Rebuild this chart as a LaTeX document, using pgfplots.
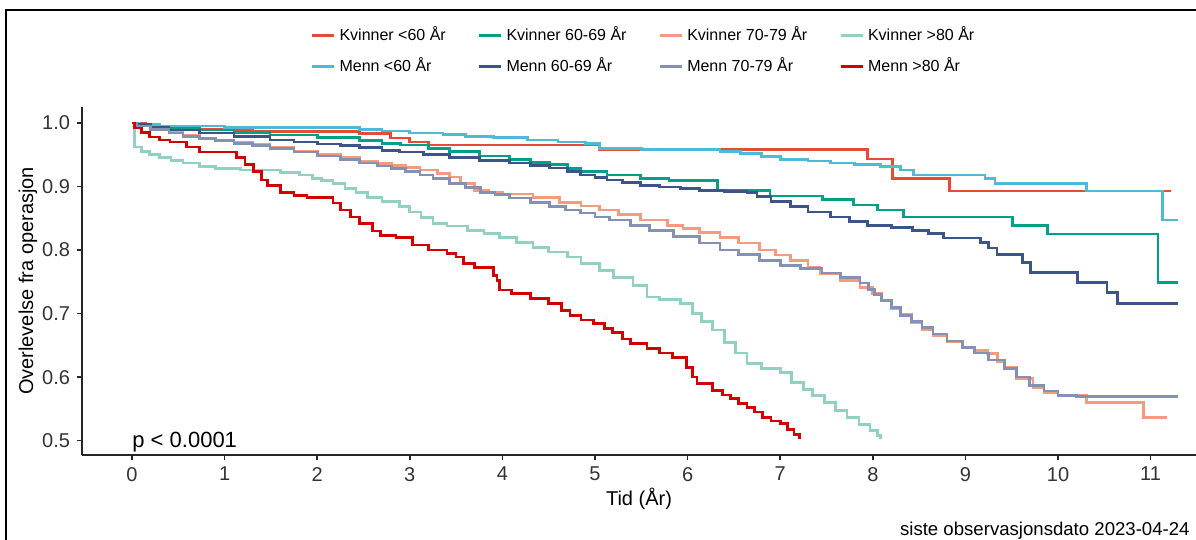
\documentclass[border=0pt]{standalone}
\usepackage{fontspec}
\setmainfont{Liberation Sans}
\usepackage{pgfplots}
\pgfplotsset{compat=1.18}
\definecolor{kv60}{HTML}{E64B35}
\definecolor{me60}{HTML}{4DBBD5}
\definecolor{kv6069}{HTML}{00A087}
\definecolor{me6069}{HTML}{3C5488}
\definecolor{kv7079}{HTML}{F39B7F}
\definecolor{me7079}{HTML}{8491B4}
\definecolor{kv80}{HTML}{91D1C2}
\definecolor{me80}{HTML}{D00000}
\begin{document}
\begin{tikzpicture}
\useasboundingbox (-41pt,-42.5pt) rectangle (557pt,227.5pt);
\begin{axis}[
  at={(0pt,0pt)}, anchor=south west,
  scale only axis, width=557pt, height=174pt,
  xmin=-0.54, xmax=11.49, ymin=0.4775, ymax=1.025,
  axis x line*=bottom, axis y line*=left,
  axis line style={line width=0.8pt, black!85, -},
  xtick={0,1,2,3,4,5,6,7,8,9,10,11},
  ytick={0.5,0.6,0.7,0.8,0.9,1.0},
  yticklabel style={/pgf/number format/fixed, /pgf/number format/fixed zerofill, /pgf/number format/precision=1},
  /pgf/number format/assume math mode=true,
  tick align=outside, major tick length=2.5pt,
  tick style={line width=0.8pt, black!85},
  tick label style={font=\fontsize{10}{12}\selectfont, color=black!80},
  xlabel={Tid (År)}, ylabel={Overlevelse fra operasjon},
  label style={font=\fontsize{11.5}{13}\selectfont},
  every axis x label/.style={at={(axis description cs:0.5,-0.125)}, anchor=center},
  every axis y label/.style={at={(axis description cs:-0.0485,0.5)}, anchor=center, rotate=90},
  legend columns=4, legend cell align=left,
  legend style={at={(0.505,1.161)}, anchor=center, draw=none, fill=none,
    font=\fontsize{8}{9.6}\selectfont,
    /tikz/every even column/.append style={column sep=14pt}, row sep=3pt},
  legend image code/.code={\draw[#1] (0pt,0pt) -- (11pt,0pt);},
  every axis plot/.append style={line width=1.35pt, const plot, mark=none},
]
% Kvinner <60
\addplot[kv60] coordinates {(0,1.000) (0.15,0.995) (0.4,0.990) (1.3,0.986) (2.46,0.983) (2.79,0.976) (3.0,0.970) (3.2,0.965) (5.05,0.958) (7.94,0.943) (8.21,0.913) (8.83,0.893) (11.22,0.893)};
\addlegendentry{Kvinner <60 År}
% Kvinner 60-69
\addplot[kv6069] coordinates {(0,1) (0.05,0.997) (0.3,0.993) (0.73,0.989) (1.1,0.985) (1.49,0.981) (2.0,0.977) (2.46,0.972) (2.7,0.968) (2.9,0.965) (3.2,0.960) (3.43,0.955) (3.75,0.948) (4.08,0.942) (4.3,0.938) (4.51,0.934) (4.7,0.928) (4.84,0.923) (5.13,0.918) (5.49,0.913) (5.8,0.909) (6.32,0.894) (6.89,0.885) (7.46,0.879) (7.79,0.871) (8.05,0.863) (8.33,0.852) (9.51,0.839) (9.89,0.825) (11.08,0.749) (11.30,0.749)};
\addlegendentry{Kvinner 60-69 År}
% Kvinner 70-79
\addplot[kv7079] coordinates {(0,1) (0.05,0.996) (0.2,0.991) (0.4,0.985) (0.55,0.980) (0.73,0.976) (0.9,0.973) (1.1,0.970) (1.3,0.966) (1.49,0.962) (1.75,0.956) (2.0,0.950) (2.25,0.945) (2.46,0.940) (2.65,0.936) (2.8,0.933) (2.95,0.930) (3.11,0.926) (3.3,0.920) (3.43,0.915) (3.55,0.905) (3.7,0.894) (3.85,0.890) (4.0,0.888) (4.33,0.883) (4.62,0.875) (4.85,0.869) (5.05,0.863) (5.25,0.856) (5.49,0.847) (5.78,0.839) (5.95,0.834) (6.13,0.828) (6.35,0.820) (6.55,0.811) (6.78,0.800) (6.95,0.792) (7.11,0.784) (7.3,0.772) (7.43,0.763) (7.65,0.752) (7.86,0.741) (8.0,0.732) (8.09,0.721) (8.2,0.708) (8.3,0.698) (8.42,0.686) (8.53,0.674) (8.65,0.665) (8.8,0.656) (8.97,0.647) (9.1,0.642) (9.24,0.637) (9.35,0.625) (9.42,0.615) (9.55,0.598) (9.73,0.584) (9.85,0.576) (10.0,0.571) (10.31,0.560) (10.92,0.537) (11.18,0.537)};
\addlegendentry{Kvinner 70-79 År}
% Kvinner >80
\addplot[kv80] coordinates {(0,1.000) (0.03,0.962) (0.10,0.955) (0.19,0.950) (0.30,0.946) (0.42,0.941) (0.55,0.937) (0.73,0.931) (0.90,0.928) (1.17,0.926) (1.60,0.922) (1.81,0.918) (1.95,0.913) (2.05,0.909) (2.17,0.905) (2.30,0.897) (2.42,0.890) (2.54,0.883) (2.70,0.876) (2.89,0.868) (3.00,0.860) (3.12,0.851) (3.25,0.842) (3.40,0.838) (3.62,0.831) (3.80,0.826) (3.97,0.820) (4.15,0.812) (4.33,0.804) (4.50,0.797) (4.70,0.789) (4.85,0.779) (5.05,0.768) (5.20,0.757) (5.41,0.744) (5.56,0.726) (5.70,0.722) (5.92,0.716) (6.05,0.700) (6.15,0.688) (6.27,0.674) (6.40,0.655) (6.52,0.638) (6.64,0.621) (6.80,0.614) (7.00,0.607) (7.12,0.592) (7.25,0.580) (7.35,0.571) (7.48,0.560) (7.60,0.548) (7.72,0.536) (7.85,0.526) (7.97,0.516) (8.05,0.508) (8.08,0.503)};
\addlegendentry{Kvinner >80 År}
% Menn <60
\addplot[me60] coordinates {(0,1) (0.08,0.997) (0.3,0.995) (1.0,0.993) (2.46,0.990) (2.7,0.987) (3.0,0.984) (3.36,0.982) (3.6,0.979) (3.9,0.977) (4.27,0.973) (4.6,0.970) (4.9,0.968) (5.05,0.960) (5.5,0.958) (6.35,0.955) (6.57,0.952) (6.8,0.947) (7.0,0.942) (7.3,0.940) (7.54,0.937) (7.8,0.934) (8.08,0.931) (8.3,0.926) (8.44,0.918) (9.21,0.913) (9.32,0.905) (10.31,0.893) (11.13,0.847) (11.30,0.847)};
\addlegendentry{Menn <60 År}
% Menn 60-69
\addplot[me6069] coordinates {(0,1) (0.05,0.997) (0.2,0.993) (0.4,0.989) (0.73,0.984) (1.1,0.979) (1.49,0.973) (1.75,0.970) (2.0,0.967) (2.25,0.964) (2.46,0.961) (2.7,0.957) (2.89,0.954) (3.15,0.950) (3.43,0.946) (3.75,0.941) (4.08,0.937) (4.3,0.933) (4.51,0.929) (4.7,0.923) (4.84,0.918) (5.0,0.914) (5.13,0.910) (5.3,0.906) (5.49,0.902) (5.7,0.899) (5.92,0.897) (6.13,0.894) (6.4,0.892) (6.64,0.890) (6.75,0.884) (6.9,0.876) (7.11,0.868) (7.3,0.860) (7.54,0.852) (7.75,0.845) (7.94,0.839) (8.2,0.835) (8.43,0.831) (8.6,0.826) (8.76,0.819) (9.16,0.812) (9.25,0.803) (9.34,0.793) (9.62,0.780) (9.70,0.765) (10.21,0.749) (10.53,0.733) (10.64,0.716) (11.30,0.716)};
\addlegendentry{Menn 60-69 År}
% Menn 70-79
\addplot[me7079] coordinates {(0,1) (0.05,0.995) (0.2,0.990) (0.4,0.984) (0.55,0.979) (0.73,0.975) (0.9,0.972) (1.1,0.968) (1.3,0.964) (1.49,0.960) (1.75,0.954) (2.0,0.948) (2.25,0.942) (2.46,0.937) (2.65,0.932) (2.8,0.928) (2.95,0.923) (3.11,0.918) (3.25,0.912) (3.43,0.905) (3.6,0.898) (3.76,0.891) (3.92,0.887) (4.08,0.882) (4.3,0.875) (4.51,0.868) (4.68,0.863) (4.84,0.858) (5.0,0.852) (5.16,0.847) (5.38,0.839) (5.59,0.831) (5.85,0.821) (6.13,0.811) (6.35,0.800) (6.55,0.793) (6.78,0.784) (7.0,0.776) (7.22,0.771) (7.45,0.764) (7.65,0.757) (7.86,0.748) (7.95,0.738) (8.02,0.730) (8.09,0.721) (8.2,0.710) (8.3,0.697) (8.42,0.687) (8.53,0.678) (8.65,0.668) (8.8,0.657) (8.97,0.647) (9.1,0.638) (9.25,0.627) (9.42,0.614) (9.55,0.600) (9.69,0.587) (9.85,0.578) (10.0,0.571) (10.2,0.569) (11.30,0.569)};
\addlegendentry{Menn 70-79 År}
% Menn >80
\addplot[me80] coordinates {(0,1.000) (0.03,0.992) (0.10,0.985) (0.19,0.978) (0.30,0.973) (0.41,0.970) (0.59,0.962) (0.73,0.954) (1.13,0.945) (1.22,0.935) (1.31,0.923) (1.40,0.910) (1.46,0.902) (1.60,0.891) (1.75,0.886) (1.89,0.883) (2.17,0.874) (2.25,0.863) (2.36,0.852) (2.46,0.842) (2.60,0.830) (2.68,0.823) (2.85,0.820) (3.03,0.808) (3.20,0.800) (3.40,0.795) (3.50,0.789) (3.58,0.779) (3.70,0.773) (3.90,0.760) (3.94,0.752) (3.97,0.737) (4.10,0.732) (4.30,0.724) (4.50,0.716) (4.64,0.705) (4.73,0.697) (4.85,0.690) (4.98,0.684) (5.10,0.676) (5.19,0.670) (5.30,0.660) (5.38,0.653) (5.56,0.645) (5.70,0.638) (5.84,0.631) (5.99,0.615) (6.05,0.600) (6.10,0.590) (6.27,0.579) (6.38,0.572) (6.46,0.566) (6.55,0.559) (6.64,0.552) (6.72,0.545) (6.81,0.536) (6.90,0.531) (7.00,0.527) (7.08,0.518) (7.15,0.510) (7.21,0.503)};
\addlegendentry{Menn >80 År}
\node[anchor=base west, inner sep=0pt, font=\fontsize{11}{13}\selectfont] at (axis cs:0,0.489) {p < 0.0001};
\end{axis}
\draw[line width=1.3pt] (-38pt,-43pt) -- (-38pt,222.5pt) -- (558pt,222.5pt);
\node[anchor=base east, inner sep=0pt, font=\fontsize{9.3}{11}\selectfont] at (554pt,-40.2pt) {siste observasjonsdato 2023-04-24};
\end{tikzpicture}
\end{document}
